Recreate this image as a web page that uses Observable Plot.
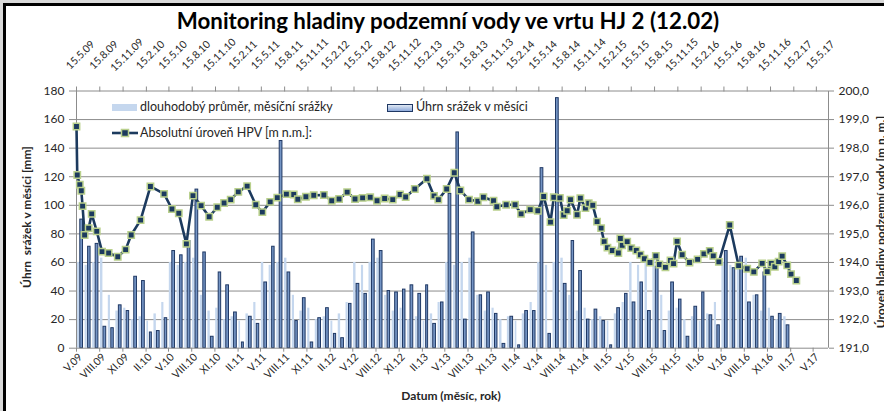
<!DOCTYPE html>
<html><head><meta charset="utf-8">
<script src="https://cdn.jsdelivr.net/npm/d3@7"></script>
<script src="https://cdn.jsdelivr.net/npm/@observablehq/plot@0.6"></script>
<style>
body{margin:0;background:#fff;}
#wrap{position:relative;width:884px;height:411px;overflow:hidden;background:#fff;font-family:Lato,'Open Sans',sans-serif;color:#262626;}
#wrap svg.plot{position:absolute;left:0;top:0;}
.t{position:absolute;white-space:pre;line-height:1;}
.leg{font-size:12.5px;color:#262626;}
.sw{position:absolute;}
</style></head><body>
<div id="wrap">
  <div id="plots"></div>
  <div class="t" style="left:6px;width:884px;text-align:center;top:10px;font-size:22.3px;font-weight:bold;color:#000">Monitoring hladiny podzemní vody ve vrtu HJ 2 (12.02)</div>
  <div class="t" style="left:27px;top:217px;transform:translate(-50%,-50%) rotate(-90deg);font-weight:bold;font-size:12px">Úhrn  srážek v měsíci [mm]</div>
  <div class="t" style="left:881px;top:222px;transform:translate(-50%,-50%) rotate(-90deg);font-weight:bold;font-size:12px">Úroveň hladiny podzemní vody [m n. m.]</div>
  <div class="t" style="left:451px;top:396px;transform:translate(-50%,-50%);font-weight:bold;font-size:12px">Datum (měsíc, rok)</div>
  <div class="sw" style="left:112px;top:104px;width:25px;height:7px;background:#c5d7ee"></div>
  <div class="t leg" style="left:140px;top:101px">dlouhodobý průměr, měsíční srážky</div>
  <div class="sw" style="left:387px;top:104px;width:24px;height:6px;background:linear-gradient(#e1e9f4,#8eaadb);border:1px solid #1f3864"></div>
  <div class="t leg" style="left:416px;top:101px">Úhrn srážek v měsíci</div>
  <svg style="position:absolute;left:110px;top:127px" width="30" height="12"><line x1="2" y1="6" x2="28" y2="6" stroke="#1c3a5e" stroke-width="2.6"/><rect x="11.5" y="2.5" width="7" height="7" fill="#1c3a5e" stroke="#b9d08c" stroke-width="1.5"/></svg>
  <div class="t leg" style="left:140px;top:127px">Absolutní úroveň HPV [m n.m.]:</div>
  <div style="position:absolute;left:0;top:0;width:884px;height:3px;background:#d9d9d9"></div>
  <div style="position:absolute;left:0;top:0;width:3px;height:411px;background:#d9d9d9"></div>
  <div style="position:absolute;left:3px;top:3px;width:881px;height:3px;background:#000"></div>
  <div style="position:absolute;left:3px;top:3px;width:3px;height:408px;background:#000"></div>
</div>
<script>
// ---------------- DATA ----------------
const firstMonth = "2009-05";
// Úhrn srážek v měsíci [mm], V.09 … I.17
const monthlyPrecip = [
  90, 71, 73, 15, 14, 30, 26, 50, 47, 11, 12, 21,
  68, 65, 75, 111, 67, 8, 53, 44, 25, 4, 22, 17,
  46, 71, 145, 53, 19, 35, 4, 21, 28, 10, 7, 31,
  45, 38, 76, 68, 40, 39, 41, 44, 38, 44, 17, 32,
  108, 151, 20, 81, 37, 39, 24, 3, 22, 2, 26, 26,
  126, 10, 175, 45, 75, 54, 20, 27, 19, 2, 28, 38,
  32, 46, 26, 57, 12, 46, 34, 8, 29, 39, 23, 16,
  68, 56, 64, 32, 37, 53, 22, 24, 16
];
// dlouhodobý průměr, měsíční srážky [mm] (I … XII)
const longTermMonths = ["I","II","III","IV","V","VI","VII","VIII","IX","X","XI","XII"];
const longTermAvg = [22, 19, 24, 32, 60, 58, 60, 63, 37, 26, 28, 20];

const bottomTickLabels = ["V.09","VIII.09","XI.09","II.10","V.10","VIII.10","XI.10","II.11","V.11","VIII.11","XI.11",
  "II.12","V.12","VIII.12","XI.12","II.13","V.13","VIII.13","XI.13","II.14","V.14","VIII.14","XI.14",
  "II.15","V.15","VIII.15","XI.15","II.16","V.16","VIII.16","XI.16","II.17","V.17"];
const topTickLabels = ["15.5.09","15.8.09","15.11.09","15.2.10","15.5.10","15.8.10","15.11.10","15.2.11","15.5.11","15.8.11","15.11.11",
  "15.2.12","15.5.12","15.8.12","15.11.12","15.2.13","15.5.13","15.8.13","15.11.13","15.2.14","15.5.14","15.8.14","15.11.14",
  "15.2.15","15.5.15","15.8.15","15.11.15","15.2.16","15.5.16","15.8.16","15.11.16","15.2.17","15.5.17"];
const leftTicks = [0, 20, 40, 60, 80, 100, 120, 140, 160, 180];
const rightTicks = [191, 192, 193, 194, 195, 196, 197, 198, 199, 200];

// Absolutní úroveň HPV [m n.m.]
const levelDates = [
  "2009-05-15","2009-05-18","2009-05-28","2009-06-03","2009-06-08","2009-06-16","2009-07-02","2009-07-14","2009-08-03","2009-08-24",
  "2009-09-19","2009-10-25","2009-11-25","2009-12-17","2010-01-23","2010-03-03","2010-04-26","2010-05-27","2010-06-23","2010-07-23",
  "2010-08-18","2010-09-19","2010-10-21","2010-11-22","2010-12-19","2011-01-14","2011-02-13","2011-03-20","2011-04-23","2011-05-19",
  "2011-06-19","2011-07-17","2011-08-22","2011-09-20","2011-10-06","2011-11-07","2011-12-08","2012-01-17","2012-02-17","2012-03-17",
  "2012-04-18","2012-05-19","2012-06-18","2012-07-18","2012-08-14","2012-09-13","2012-10-15","2012-11-13","2012-12-05","2013-01-10",
  "2013-02-27","2013-03-27","2013-04-13","2013-05-16","2013-06-15","2013-07-09","2013-08-12","2013-09-16","2013-10-08","2013-11-17",
  "2013-11-30","2014-01-06","2014-02-10","2014-03-06","2014-04-11","2014-05-11","2014-06-03","2014-06-30","2014-07-13","2014-08-06",
  "2014-08-21","2014-09-04","2014-09-17","2014-10-13","2014-10-26","2014-11-15","2014-11-28","2014-12-14","2014-12-31","2015-01-16",
  "2015-01-28","2015-02-10","2015-03-01","2015-03-25","2015-04-02","2015-04-09","2015-04-29","2015-05-15","2015-06-04","2015-06-20",
  "2015-07-06","2015-07-28","2015-08-20","2015-09-03","2015-09-27","2015-10-17","2015-10-29","2015-11-12","2015-12-02","2015-12-31",
  "2016-02-01","2016-02-26","2016-03-20","2016-04-03","2016-04-25","2016-06-07","2016-07-12","2016-08-15","2016-09-10","2016-10-13",
  "2016-11-02","2016-11-18","2016-12-02","2016-12-17","2016-12-31","2017-01-20","2017-02-04","2017-02-25"
];
const levelValues = [
  198.76,197.06,196.72,196.51,195.97,194.96,195.20,195.70,195.09,194.38,
  194.33,194.20,194.45,194.96,195.48,196.66,196.40,195.87,195.72,194.65,
  196.34,195.99,195.60,195.93,196.08,196.20,196.47,196.67,196.02,195.76,
  196.12,196.27,196.39,196.38,196.21,196.30,196.35,196.36,196.16,196.22,
  196.46,196.22,196.26,196.28,196.16,196.24,196.20,196.38,196.29,196.57,
  196.93,196.33,196.20,196.57,197.14,196.52,196.20,196.14,196.28,196.16,
  195.95,196.02,196.02,195.70,195.85,195.81,196.31,195.41,196.28,196.26,
  195.66,195.81,196.20,195.67,196.25,195.90,196.07,196.00,195.43,195.20,
  194.73,194.52,194.42,194.33,194.84,194.60,194.73,194.50,194.42,194.27,
  194.13,194.00,194.23,193.93,193.83,194.07,193.96,194.74,194.27,194.00,
  194.11,194.30,194.40,194.23,194.02,195.31,193.89,193.78,193.67,193.97,
  193.68,193.97,193.85,194.03,194.22,193.90,193.59,193.37
];

// ---------------- BUILD ----------------
const FONT = "Lato, 'Open Sans', sans-serif";
const W = 884, H = 411;
const M = {left: 76, right: 56, top: 90.5, bottom: 63.3};
const GRID = "#8c8c8c", NAVY = "#1c3a5e", TXT = "#262626";

const start = d3.utcParse("%Y-%m")(firstMonth);
const precipData = monthlyPrecip.map((v, i) => ({date: d3.utcMonth.offset(start, i), value: v}));
const avgData = precipData.map(d => ({date: d.date, value: longTermAvg[d.date.getUTCMonth()]}));

const roman = Object.fromEntries(longTermMonths.map((r, i) => [r, i]));
const bottomTicks = bottomTickLabels.map(s => { const [r, yy] = s.split("."); return new Date(Date.UTC(2000 + +yy, roman[r], 1)); });
const bottomLabelOf = new Map(bottomTicks.map((d, i) => [+d, bottomTickLabels[i]]));
const topTicks = topTickLabels.map(s => { const [d, m, yy] = s.split(".").map(Number); return new Date(Date.UTC(2000 + yy, m - 1, d)); });
const topLabelOf = new Map(topTicks.map((d, i) => [+d, topTickLabels[i]]));
const levelData = levelDates.map((d, i) => ({date: new Date(d), value: levelValues[i]}));

const xA = [new Date(Date.UTC(2009, 4, 1)), new Date(Date.UTC(2017, 6, 1))];
const xB = [new Date(Date.UTC(2009, 4, 15)), new Date(Date.UTC(2017, 6, 2))];
const none = () => "";

const common = {width: W, height: H, marginLeft: M.left, marginRight: M.right, marginTop: M.top, marginBottom: M.bottom,
  style: {background: "transparent", fontFamily: FONT, overflow: "visible"}};

const plotA = Plot.plot({
  ...common,
  x: {type: "utc", domain: xA},
  y: {domain: [0, 180]},
  marks: [
    Plot.ruleY(leftTicks.slice(1), {stroke: GRID, strokeWidth: 1}),
    Plot.rectY(avgData, {x: "date", interval: "month", y: "value", fill: "#c5d7ee", insetLeft: 0.8, insetRight: 4.6}),
    Plot.rectY(precipData, {x: "date", interval: "month", y: "value", fill: "#7494c4", stroke: "#1f3864", strokeWidth: 1, insetLeft: 3.8, insetRight: 1.3}),
    Plot.ruleY([0], {stroke: GRID}),
    Plot.ruleX([xA[0]], {stroke: GRID}),
    Plot.axisY({ticks: leftTicks, tickSize: 7, tickPadding: 5, stroke: GRID, color: TXT, fontSize: 12, label: null}),
    Plot.axisX({ticks: bottomTicks, tickSize: 4, tickFormat: none, stroke: GRID, label: null}),
    Plot.axisX({ticks: bottomTicks, tickSize: 0, tickPadding: 7, tickRotate: -45, textAnchor: "end", lineAnchor: "middle", dx: 4,
      tickFormat: d => bottomLabelOf.get(+d), color: TXT, fontSize: 10.5, label: null})
  ]
});
plotA.classList.add("plot");

const plotB = Plot.plot({
  ...common,
  x: {type: "utc", domain: xB},
  y: {domain: [191, 200]},
  marks: [
    Plot.ruleX([xB[1]], {stroke: GRID}),
    Plot.axisY({anchor: "right", ticks: rightTicks, tickSize: 5, tickPadding: 5, stroke: GRID, color: TXT, fontSize: 12,
      tickFormat: d => d.toFixed(1).replace(".", ","), label: null}),
    Plot.axisX({anchor: "top", ticks: topTicks, tickSize: 5, tickFormat: none, stroke: GRID, label: null}),
    Plot.axisX({anchor: "top", ticks: topTicks, tickSize: 0, tickPadding: 36, tickRotate: -45, textAnchor: "middle", lineAnchor: "middle", dx: 4,
      tickFormat: d => topLabelOf.get(+d), color: TXT, fontSize: 10.5, label: null}),
    Plot.line(levelData, {x: "date", y: "value", stroke: NAVY, strokeWidth: 2.6}),
    Plot.dot(levelData, {x: "date", y: "value", symbol: "square", r: 3.6, fill: NAVY, stroke: "#b9d08c", strokeWidth: 1.5})
  ]
});
plotB.classList.add("plot");

const host = document.getElementById("plots");
host.appendChild(plotA);
host.appendChild(plotB);
</script>
</body></html>
